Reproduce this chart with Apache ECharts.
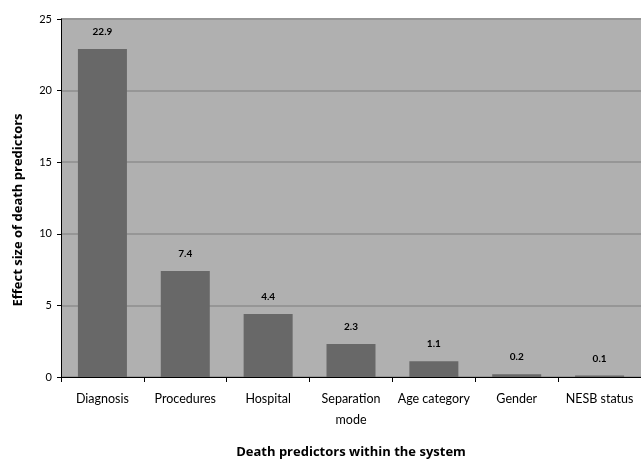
<!DOCTYPE html>
<html>
<head>
<meta charset="utf-8">
<script src="https://cdn.jsdelivr.net/npm/echarts@6/dist/echarts.min.js"></script>
<style>
html,body{margin:0;padding:0;background:#fff;overflow:hidden;}
#chart{width:641px;height:464px;}
</style>
</head>
<body>
<div id="chart"></div>
<script>
// Death predictors and their effect sizes
const categories = ['Diagnosis', 'Procedures', 'Hospital', 'Separation\nmode', 'Age category', 'Gender', 'NESB status'];
const effectSizes = [22.9, 7.4, 4.4, 2.3, 1.1, 0.2, 0.1];
const yTicks = [0, 5, 10, 15, 20, 25];

const FONT = 'Lato, "Open Sans", sans-serif';
const BOLD_FONT = '"Open Sans", Lato, sans-serif';

const chart = echarts.init(document.getElementById('chart'), null, { renderer: 'canvas' });
chart.setOption({
  animation: false,
  backgroundColor: '#ffffff',
  grid: {
    left: 61, top: 19, width: 590, height: 364,
    show: true, backgroundColor: '#b0b0b0', borderWidth: 0
  },
  graphic: [{
    type: 'text',
    x: 18,
    y: 210,
    rotation: Math.PI / 2,
    style: {
      text: 'Effect size of death predictors',
      font: 'bold 13px ' + BOLD_FONT,
      fill: '#000',
      align: 'center',
      verticalAlign: 'middle'
    }
  }],
  xAxis: {
    type: 'category',
    data: categories,
    name: 'Death predictors within the system',
    nameLocation: 'middle',
    nameGap: 69,
    nameTextStyle: { fontFamily: BOLD_FONT, fontSize: 13, fontWeight: 'bold', color: '#000' },
    axisLine: { lineStyle: { color: '#000', width: 1 } },
    axisTick: { show: true, length: 5, lineStyle: { color: '#000' } },
    axisLabel: { fontFamily: FONT, fontSize: 12.5, color: '#000', margin: 11, lineHeight: 21, interval: 0 }
  },
  yAxis: {
    type: 'value',
    min: yTicks[0],
    max: yTicks[yTicks.length - 1],
    interval: yTicks[1] - yTicks[0],
    axisLine: { show: true, lineStyle: { color: '#000', width: 1 } },
    axisTick: { show: true, length: 4, lineStyle: { color: '#000' } },
    axisLabel: { fontFamily: FONT, fontSize: 11, color: '#000', margin: 9 },
    splitLine: { show: true, lineStyle: { color: '#969696', width: 2 } }
  },
  series: [{
    type: 'bar',
    data: effectSizes,
    barWidth: 49,
    itemStyle: { color: '#686868' },
    label: {
      show: true,
      position: 'top',
      distance: 12,
      fontFamily: FONT,
      fontSize: 10,
      fontWeight: 'bold',
      color: '#000',
      formatter: p => p.value.toFixed(1)
    }
  }]
});
</script>
</body>
</html>
